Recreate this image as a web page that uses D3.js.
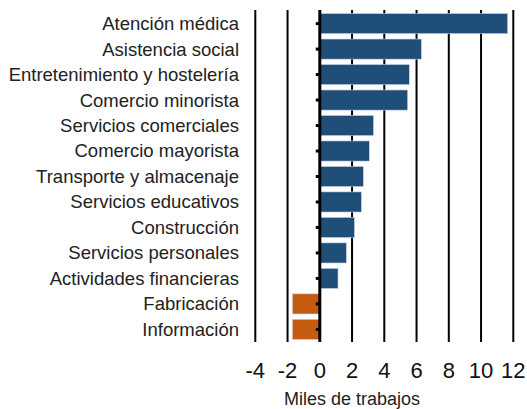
<!doctype html>
<html lang="es">
<head>
    <meta charset="UTF-8" />
    <title>Miles de trabajos</title>
    <script src="https://d3js.org/d3.v7.min.js"></script>
    <style>
        body, html {
            margin: 0;
            padding: 0;
            background: #fff;
            overflow: hidden;
        }

        svg {
            display: block;
            font-family: "Liberation Sans", Arial, sans-serif;
        }

        .cat-label {
            font-size: 18.5px;
            fill: #222;
        }

        .tick-label {
            font-size: 22px;
            fill: #111;
        }

        .axis-title {
            font-size: 18px;
            fill: #222;
        }
    </style>
</head>
<body>
    <svg id="chart"></svg>

    <script>
        const categories = [
            "Atención médica", "Asistencia social", "Entretenimiento y hostelería",
            "Comercio minorista", "Servicios comerciales", "Comercio mayorista",
            "Transporte y almacenaje", "Servicios educativos", "Construcción",
            "Servicios personales", "Actividades financieras", "Fabricación", "Información"
        ];
        const values = [11.65, 6.3, 5.55, 5.45, 3.33, 3.07, 2.7, 2.58, 2.15, 1.65, 1.13, -1.7, -1.7];
        const tickValues = [-4, -2, 0, 2, 4, 6, 8, 10, 12];
        const axisTitle = "Miles de trabajos";

        const width = 527;
        const height = 409;
        const svg = d3.select("#chart").attr("width", width).attr("height", height);

        const x = d3.scaleLinear().domain([-4, 12]).range([255.3, 513.3]);
        const y = d3.scaleBand().domain(categories).range([11, 342]).paddingInner(0.21).paddingOuter(0.1);

        // vertical grid lines
        svg.append("g")
            .selectAll("line")
            .data(tickValues.filter(d => d !== 0))
            .join("line")
            .attr("x1", d => x(d))
            .attr("x2", d => x(d))
            .attr("y1", 10)
            .attr("y2", 342)
            .attr("stroke", "#000")
            .attr("stroke-width", 2);

        // bars
        svg.append("g")
            .selectAll("rect")
            .data(values)
            .join("rect")
            .attr("x", d => x(Math.min(0, d)))
            .attr("y", (d, i) => y(categories[i]))
            .attr("width", d => Math.abs(x(d) - x(0)))
            .attr("height", y.bandwidth())
            .attr("fill", d => d < 0 ? "#c55a11" : "#1f4e79")
            .attr("stroke", "#c9d6e3")
            .attr("stroke-width", 0.6);

        // zero axis with small ticks
        svg.append("line")
            .attr("x1", x(0))
            .attr("x2", x(0))
            .attr("y1", 10)
            .attr("y2", 342)
            .attr("stroke", "#000")
            .attr("stroke-width", 3);

        svg.append("g")
            .selectAll("line")
            .data(categories)
            .join("line")
            .attr("x1", x(0) - 4)
            .attr("x2", x(0))
            .attr("y1", d => y(d) + y.bandwidth() / 2)
            .attr("y2", d => y(d) + y.bandwidth() / 2)
            .attr("stroke", "#000")
            .attr("stroke-width", 3);

        // category labels
        svg.append("g")
            .selectAll("text")
            .data(categories)
            .join("text")
            .attr("class", "cat-label")
            .attr("x", 239)
            .attr("y", d => y(d) + y.bandwidth() / 2)
            .attr("dy", "0.35em")
            .attr("text-anchor", "end")
            .text(d => d);

        // x tick labels
        svg.append("g")
            .selectAll("text")
            .data(tickValues)
            .join("text")
            .attr("class", "tick-label")
            .attr("x", d => x(d))
            .attr("y", 378)
            .attr("text-anchor", "middle")
            .text(d => d);

        svg.append("text")
            .attr("class", "axis-title")
            .attr("x", 352)
            .attr("y", 405)
            .attr("text-anchor", "middle")
            .text(axisTitle);
    </script>
</body>
</html>
